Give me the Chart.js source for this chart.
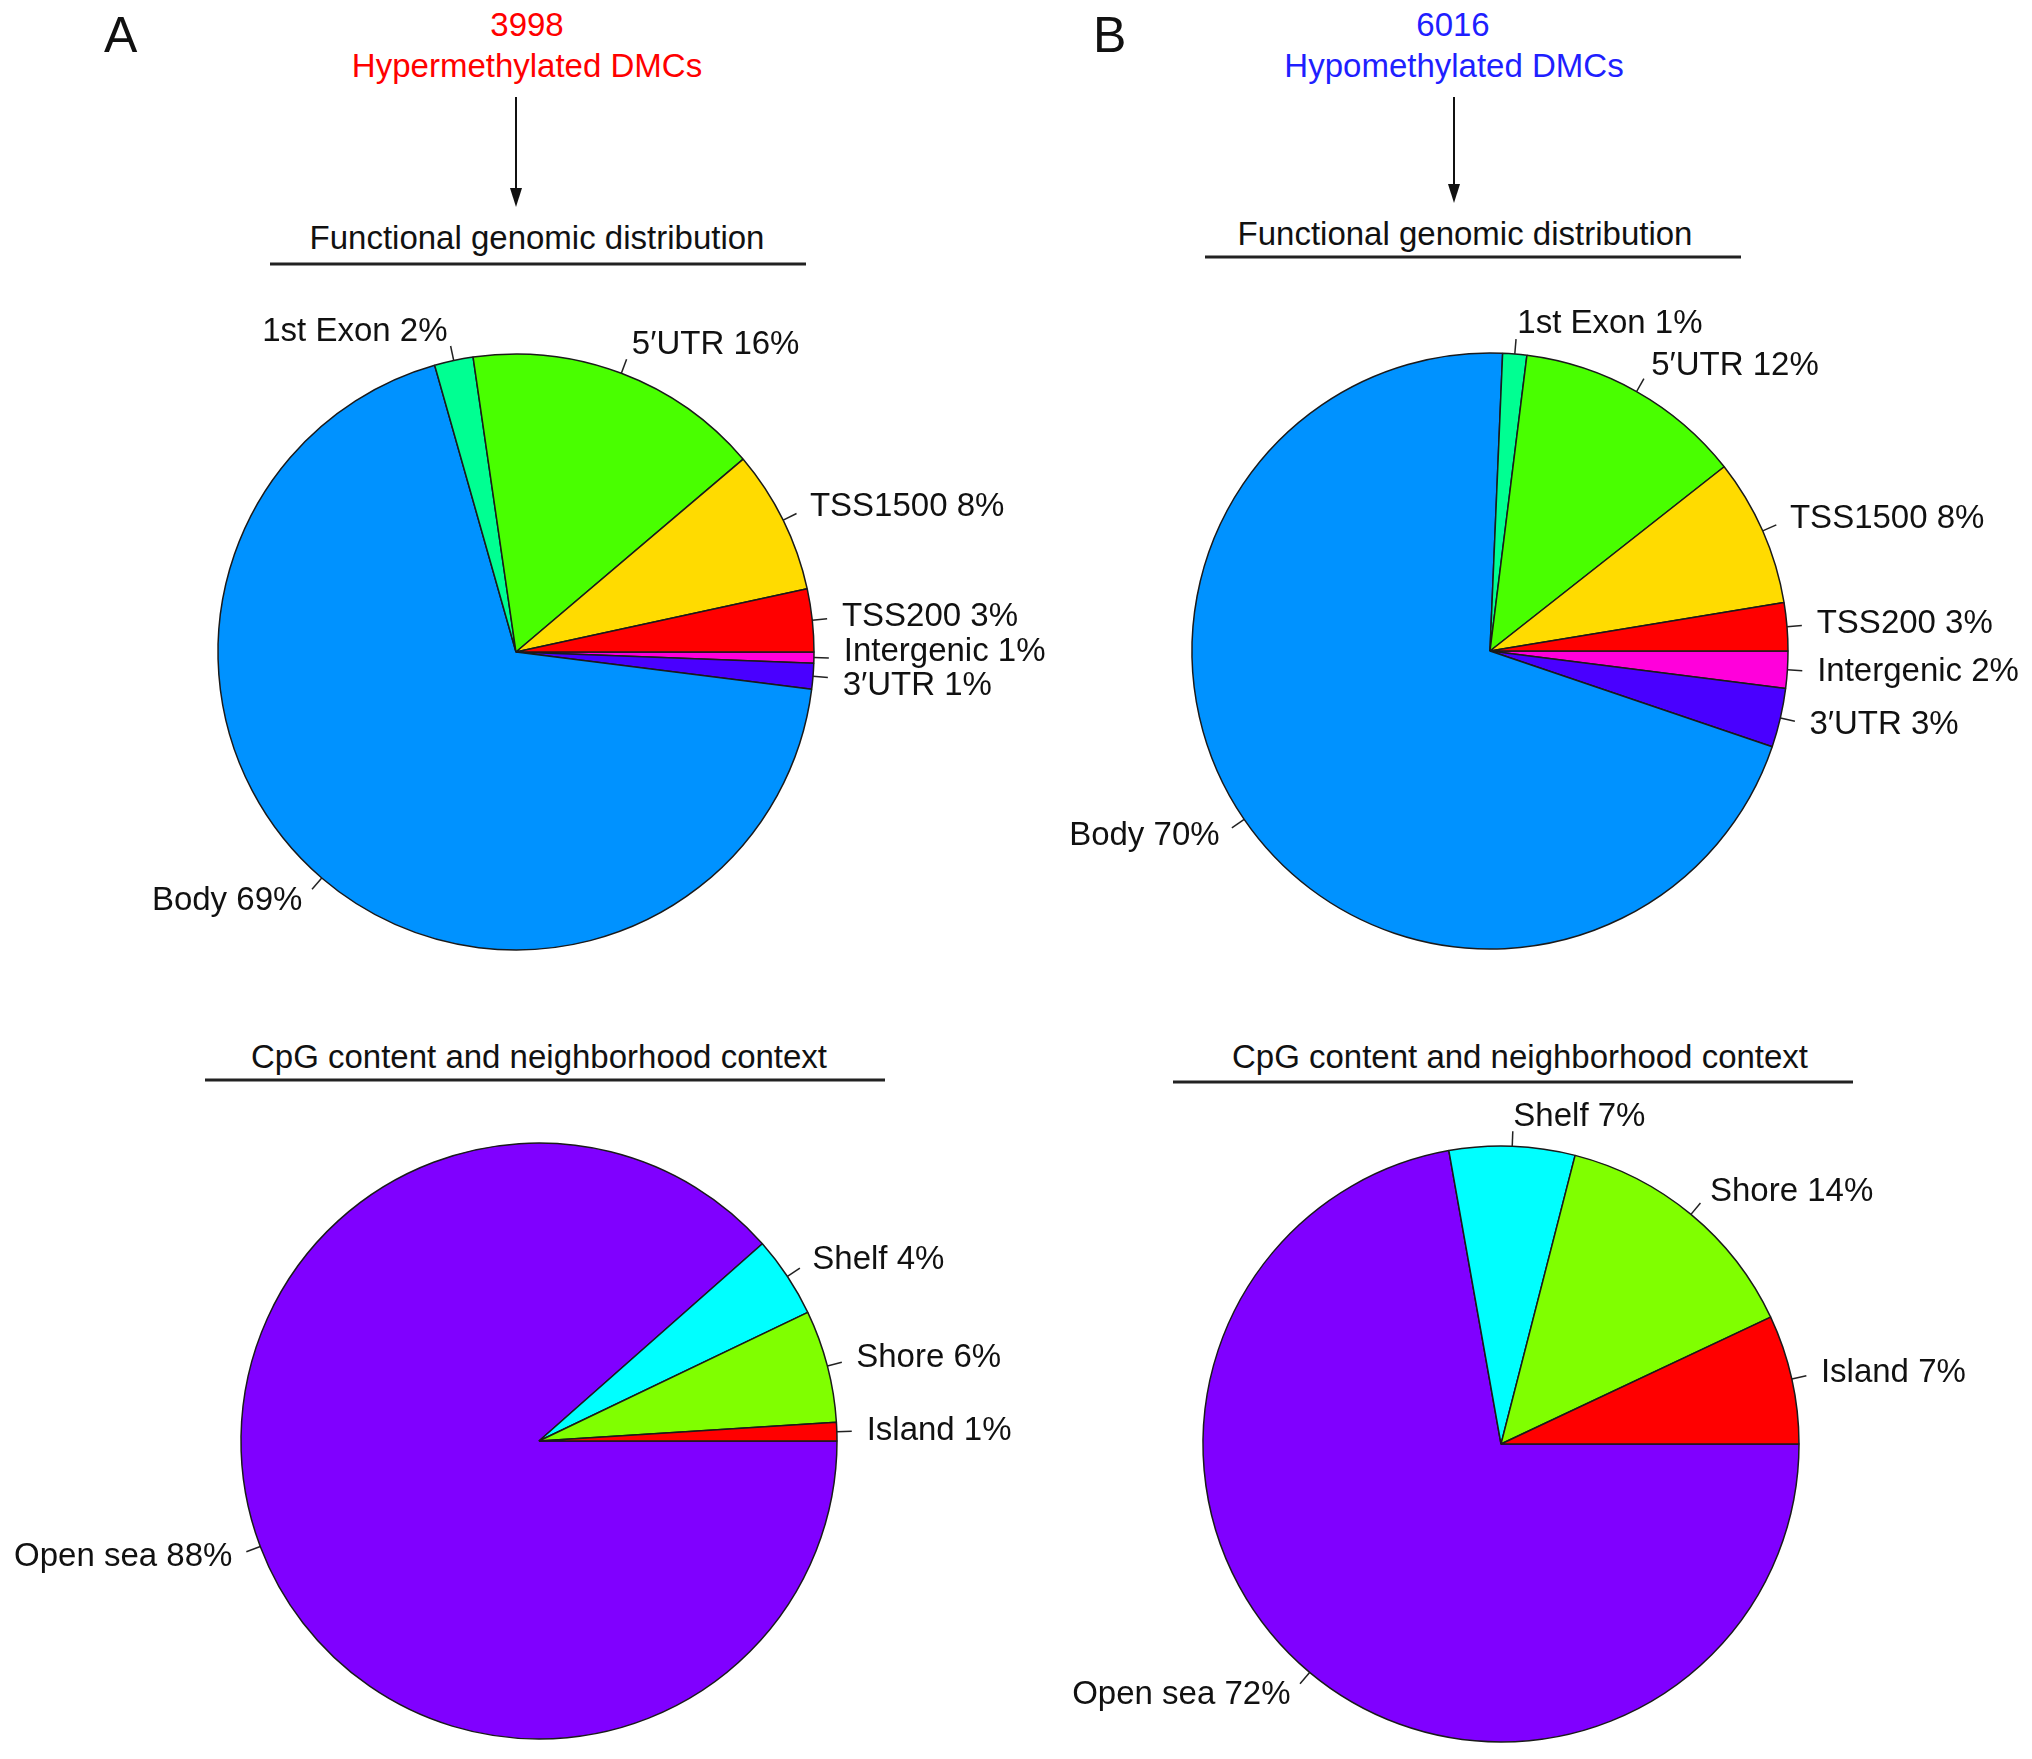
<!DOCTYPE html>
<html>
<head>
<meta charset="utf-8">
<script src="https://cdn.jsdelivr.net/npm/chart.js@4.4.1/dist/chart.umd.min.js"></script>
<style>
  html, body { margin: 0; padding: 0; background: #fff; }
  body { width: 2032px; height: 1759px; position: relative; overflow: hidden;
         font-family: "Liberation Sans", Arial, sans-serif; color: #111; }
  .t { position: absolute; font-size: 33px; line-height: 1; white-space: nowrap; transform: translate(-50%, -50%); }
  .panel { position: absolute; font-size: 50px; line-height: 1; }
  canvas { position: absolute; }
  svg { position: absolute; left: 0; top: 0; }
</style>
</head>
<body>
<div class="panel" style="left:104px;top:10px">A</div>
<div class="panel" style="left:1093px;top:10px">B</div>

<div class="t" style="left:527px;top:24px;color:#ff0000">3998</div>
<div class="t" style="left:527px;top:65px;color:#ff0000">Hypermethylated DMCs</div>
<div class="t" style="left:1453px;top:24px;color:#1f1fff">6016</div>
<div class="t" style="left:1454px;top:65px;color:#1f1fff">Hypomethylated DMCs</div>

<div class="t" style="left:537px;top:237px">Functional genomic distribution</div>
<div class="t" style="left:1465px;top:233px">Functional genomic distribution</div>
<div class="t" style="left:539px;top:1056px">CpG content and neighborhood context</div>
<div class="t" style="left:1520px;top:1056px">CpG content and neighborhood context</div>

<svg width="2032" height="1759">
  <g stroke="#222" stroke-width="3">
    <line x1="270" y1="264" x2="806" y2="264"/>
    <line x1="1205" y1="257" x2="1741" y2="257"/>
    <line x1="205" y1="1080" x2="885" y2="1080"/>
    <line x1="1173" y1="1082" x2="1853" y2="1082"/>
  </g>
  <g stroke="#111" stroke-width="2">
    <line x1="516" y1="97" x2="516" y2="192"/>
    <line x1="1454" y1="97" x2="1454" y2="188"/>
  </g>
  <g fill="#111">
    <polygon points="510,188 522,188 516,207"/>
    <polygon points="1448,184 1460,184 1454,203"/>
  </g>
</svg>

<canvas id="hyperGenomic" width="1100" height="760" style="left:-34px;top:272px"></canvas>
<canvas id="hypoGenomic" width="1100" height="760" style="left:940px;top:271px"></canvas>
<canvas id="hyperCpg" width="1100" height="760" style="left:-11px;top:1061px"></canvas>
<canvas id="hypoCpg" width="1100" height="760" style="left:951px;top:1064px"></canvas>

<script>
// slices listed counter-clockwise from 3 o'clock, as R's pie() draws them
const genomicLabels = ['TSS200', 'TSS1500', '5\u2032UTR', '1st Exon', 'Body', '3\u2032UTR', 'Intergenic'];
const genomicColors = ['#FF0000', '#FFDB00', '#49FF00', '#00FF92', '#0092FF', '#4900FF', '#FF00DB'];
const hyperGenomic = [3.4, 7.8, 16.1, 2.1, 68.6, 1.4, 0.6];
const hypoGenomic = [2.6, 8.0, 12.4, 1.3, 70.4, 3.2, 2.0];

const cpgLabels = ['Island', 'Shore', 'Shelf', 'Open sea'];
const cpgColors = ['#FF0000', '#80FF00', '#00FFFF', '#8000FF'];
const hyperCpg = [1.0, 6.1, 4.4, 88.4];
const hypoCpg = [7.0, 14.0, 6.8, 72.2];

const PIE_RADIUS = 298;
const LABEL_GAP = 34;

// R-style labels: short tick from r to 1.05r, text at 1.1r
// (labels that would overlap get pushed apart vertically)
const sliceLabels = {
  id: 'sliceLabels',
  afterDatasetsDraw(chart) {
    const ctx = chart.ctx;
    const ds = chart.data.datasets[0];
    const total = ds.data.reduce((a, b) => a + b, 0);
    const arcs = chart.getDatasetMeta(0).data;

    const items = arcs.map((arc, i) => {
      const mid = (arc.startAngle + arc.endAngle) / 2;
      const r = arc.outerRadius;
      const c = Math.cos(mid), s = Math.sin(mid);
      return {
        arc, r, c, s,
        x: arc.x + 1.1 * r * c,
        y: arc.y + 1.1 * r * s,
        right: c >= 0,
        text: chart.data.labels[i] + ' ' + Math.round(ds.data[i] / total * 100) + '%',
      };
    });

    [true, false].forEach(side => {
      const list = items.filter(it => it.right === side).sort((a, b) => a.y - b.y);
      for (let pass = 0; pass < 10; pass++) {
        for (let k = 1; k < list.length; k++) {
          const d = list[k].y - list[k - 1].y;
          if (d < LABEL_GAP) {
            const push = (LABEL_GAP - d) / 2;
            list[k - 1].y -= push;
            list[k].y += push;
          }
        }
      }
    });

    ctx.save();
    ctx.font = '33px "Liberation Sans", Arial, sans-serif';
    ctx.fillStyle = '#111';
    ctx.strokeStyle = '#222';
    ctx.lineWidth = 1.5;
    ctx.textBaseline = 'middle';
    items.forEach(it => {
      const { arc, r, c, s } = it;
      ctx.beginPath();
      ctx.moveTo(arc.x + r * c, arc.y + r * s);
      ctx.lineTo(arc.x + 1.05 * r * c, arc.y + 1.05 * r * s);
      ctx.stroke();
      ctx.textAlign = it.right ? 'left' : 'right';
      ctx.fillText(it.text, it.x, it.y);
    });
    ctx.restore();
  }
};

function makePie(id, labels, values, colors) {
  // Chart.js goes clockwise, so feed the slices in reverse from 3 o'clock
  const order = labels.map((_, i) => i).reverse();
  return new Chart(document.getElementById(id), {
    type: 'pie',
    data: {
      labels: order.map(i => labels[i]),
      datasets: [{
        data: order.map(i => values[i]),
        backgroundColor: order.map(i => colors[i]),
        borderColor: '#1a1a1a',
        borderWidth: 1.5,
      }],
    },
    options: {
      responsive: false,
      animation: false,
      rotation: 90,
      radius: PIE_RADIUS,
      layout: { padding: 0 },
      plugins: {
        legend: { display: false },
        tooltip: { enabled: false },
      },
    },
    plugins: [sliceLabels],
  });
}

makePie('hyperGenomic', genomicLabels, hyperGenomic, genomicColors);
makePie('hypoGenomic', genomicLabels, hypoGenomic, genomicColors);
makePie('hyperCpg', cpgLabels, hyperCpg, cpgColors);
makePie('hypoCpg', cpgLabels, hypoCpg, cpgColors);
</script>
</body>
</html>
